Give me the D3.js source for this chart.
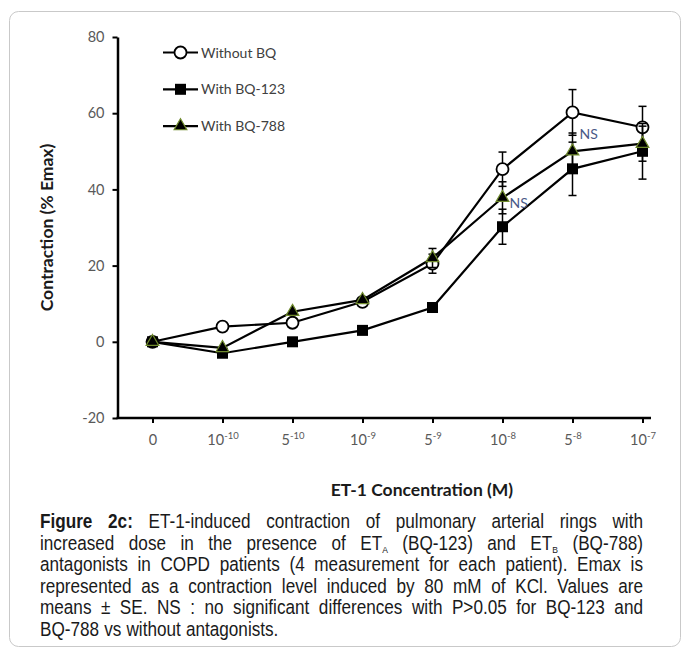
<!DOCTYPE html>
<html>
<head>
<meta charset="utf-8">
<script src="https://cdn.jsdelivr.net/npm/d3@7"></script>
<style>
  html, body { margin: 0; padding: 0; background: #fff; }
  svg { display: block; }
</style>
</head>
<body>
<svg id="chart" width="683" height="651"></svg>
<script>
// ET-1 concentrations (tick labels: base^exponent)
const categories = ["0", "10^-10", "5^-10", "10^-9", "5^-9", "10^-8", "5^-8", "10^-7"];
const yTicks = [-20, 0, 20, 40, 60, 80];

// Contraction (% Emax), means and SE
const withoutBQ      = [0, 4, 5, 10.5, 20.5, 45.3, 60.2, 56.3];
const withoutBQErr   = [0, 0, 0, 0, 2.5, 4.5, 6, 5.5];
const withBQ123      = [0, -3, 0, 3, 9, 30.2, 45.4, 50];
const withBQ123Err   = [0, 0, 0, 0, 0, 4.6, 7, 7.3];
const withBQ788      = [0, -1.6, 7.9, 11, 22, 37.8, 50, 52];
const withBQ788Err   = [0, 0, 0, 0, 2.5, 4.2, 4.8, 4.6];

const seriesNames = ["Without BQ", "With BQ-123", "With BQ-788"];

// "NS" annotations: category and value they sit next to
const nsCategories = ["10^-8", "5^-8"];
const nsValues = [36.5, 54.5];

const captionLines = [
  "*Figure *2c: ET-1-induced contraction of pulmonary arterial rings with",
  "increased dose in the presence of ET_A (BQ-123) and ET_B (BQ-788)",
  "antagonists in COPD patients (4 measurement for each patient).  Emax is",
  "represented as a contraction level induced by 80 mM of KCl. Values are",
  "means ± SE. NS :  no significant differences with P>0.05 for BQ-123 and",
  "BQ-788 vs without antagonists."
];

const svg = d3.select("#chart");
const axisFont = "Lato, 'Open Sans', sans-serif";
const captionFont = "'Liberation Sans Narrow', 'Arial Narrow', 'Liberation Sans', Arial, sans-serif";

// frame
svg.append("rect")
  .attr("x", 9.5).attr("y", 11.5)
  .attr("width", 671).attr("height", 635)
  .attr("rx", 9).attr("ry", 9)
  .attr("fill", "none").attr("stroke", "#c9c9c9").attr("stroke-width", 1);

const x = d3.scalePoint().domain(categories).range([152.5, 642.5]);
const y = d3.scaleLinear().domain([-20, 80]).range([418, 37]);
const axisLeftX = 117.5, axisRightX = 651;

// y axis
const yAxis = svg.append("g")
  .attr("transform", `translate(${axisLeftX},0)`)
  .call(d3.axisLeft(y).tickValues(yTicks).tickSize(5).tickSizeOuter(0)
    .tickFormat(d => String(d)));
yAxis.select(".domain").attr("stroke", "#000").attr("stroke-width", 2.5);
yAxis.selectAll(".tick line").attr("stroke", "#000").attr("stroke-width", 2);
yAxis.selectAll(".tick text")
  .attr("font-family", axisFont).attr("font-size", 14.5).attr("fill", "#595959")
  .attr("x", -13);

// x axis
const xAxis = svg.append("g")
  .attr("transform", `translate(0,${y(-20)})`)
  .call(d3.axisBottom(x).tickSize(5).tickSizeOuter(0).tickFormat(""));
xAxis.select(".domain").remove();
xAxis.append("line")
  .attr("x1", axisLeftX - 1).attr("x2", axisRightX)
  .attr("stroke", "#000").attr("stroke-width", 2.5);
xAxis.selectAll(".tick line").attr("stroke", "#000").attr("stroke-width", 2);
xAxis.selectAll(".tick").each(function(d) {
  const parts = d.split("^");
  const t = d3.select(this).append("text")
    .attr("y", 27).attr("text-anchor", "middle")
    .attr("font-family", axisFont).attr("font-size", 14.5).attr("fill", "#595959");
  t.append("tspan").text(parts[0]);
  if (parts[1]) {
    t.append("tspan").attr("font-size", 9.5).attr("dy", -6).text(parts[1]);
  }
});

// axis titles
svg.append("text")
  .attr("transform", `translate(53,${(y(80) + y(-20)) / 2}) rotate(-90)`)
  .attr("text-anchor", "middle")
  .attr("font-family", axisFont).attr("font-weight", "bold").attr("font-size", 17.5)
  .attr("fill", "#1a1a1a")
  .text("Contraction (% Emax)");

svg.append("text")
  .attr("x", 422).attr("y", 496)
  .attr("text-anchor", "middle")
  .attr("font-family", axisFont).attr("font-weight", "bold").attr("font-size", 17.5)
  .attr("fill", "#1a1a1a")
  .text("ET-1 Concentration (M)");

// series
const series = [
  { name: seriesNames[0], values: withoutBQ, err: withoutBQErr, marker: "circle" },
  { name: seriesNames[1], values: withBQ123, err: withBQ123Err, marker: "square" },
  { name: seriesNames[2], values: withBQ788, err: withBQ788Err, marker: "triangle" }
];

const triangleColor = "#6f8a2c";

function drawMarker(g, type, cx, cy) {
  if (type === "circle") {
    g.append("circle").attr("cx", cx).attr("cy", cy).attr("r", 6)
      .attr("fill", "#fff").attr("stroke", "#000").attr("stroke-width", 1.8);
  } else if (type === "square") {
    g.append("rect").attr("x", cx - 5.5).attr("y", cy - 5.5)
      .attr("width", 11).attr("height", 11).attr("fill", "#000");
  } else {
    const sym = d3.symbol().type(d3.symbolTriangle).size(70);
    g.append("path").attr("d", sym()).attr("transform", `translate(${cx},${cy})`)
      .attr("fill", "#000").attr("stroke", triangleColor).attr("stroke-width", 1.2);
  }
}

const line = d3.line().x((d, i) => x(categories[i])).y(d => y(d));

series.forEach(s => {
  const g = svg.append("g");
  // error bars
  s.values.forEach((v, i) => {
    const e = s.err[i];
    if (!e) return;
    const cx = x(categories[i]);
    g.append("line").attr("x1", cx).attr("x2", cx)
      .attr("y1", y(v - e)).attr("y2", y(v + e))
      .attr("stroke", "#000").attr("stroke-width", 1.5);
    [v - e, v + e].forEach(b => {
      g.append("line").attr("x1", cx - 4).attr("x2", cx + 4)
        .attr("y1", y(b)).attr("y2", y(b))
        .attr("stroke", "#000").attr("stroke-width", 1.5);
    });
  });
  g.append("path").attr("d", line(s.values))
    .attr("fill", "none").attr("stroke", "#000").attr("stroke-width", 2.2);
  s.values.forEach((v, i) => drawMarker(g, s.marker, x(categories[i]), y(v)));
});

// NS annotations
nsCategories.forEach((c, i) => {
  svg.append("text")
    .attr("x", x(c) + 7).attr("y", y(nsValues[i]) + 5)
    .attr("font-family", axisFont).attr("font-size", 14).attr("fill", "#4a5a88")
    .text("NS");
});

// legend
const legend = svg.append("g");
series.forEach((s, i) => {
  const ly = 52.5 + i * 36.8;
  legend.append("line").attr("x1", 163).attr("x2", 198).attr("y1", ly).attr("y2", ly)
    .attr("stroke", "#000").attr("stroke-width", 2.2);
  drawMarker(legend, s.marker, 180.5, ly);
  legend.append("text").attr("x", 201).attr("y", ly + 5)
    .attr("font-family", axisFont).attr("font-size", 14).attr("fill", "#404040")
    .text(s.name);
});

// caption, justified between left and right margins; words are
// condensed horizontally to give a narrow face
const capLeft = 40, capRight = 643, capTop = 528, capStep = 21.6, capSize = 19.5;
const narrow = 0.88;
const caption = svg.append("g")
  .attr("font-family", captionFont).attr("font-size", capSize).attr("fill", "#1a1a1a");

function buildWord(parent, word) {
  const t = parent.append("text");
  let w = word;
  if (w.startsWith("*")) { t.attr("font-weight", "bold"); w = w.slice(1); }
  const m = w.match(/^(.*)_(\w)(.*)$/);
  if (m) {
    t.append("tspan").text(m[1]);
    t.append("tspan").attr("font-size", capSize * 0.5).attr("dy", 3).text(m[2]);
    if (m[3]) t.append("tspan").attr("dy", -3).text(m[3]);
  } else {
    t.text(w);
  }
  return t;
}

captionLines.forEach((ln, li) => {
  const words = ln.split(/ +/).filter(w => w.length);
  const yy = capTop + li * capStep;
  const nodes = words.map(w => buildWord(caption, w));
  const widths = nodes.map(n => n.node().getComputedTextLength() * narrow);
  const total = d3.sum(widths);
  const last = li === captionLines.length - 1;
  const spaceW = capSize * 0.26;
  const gap = last ? spaceW : (capRight - capLeft - total) / (words.length - 1);
  let cx = capLeft;
  nodes.forEach((n, i) => {
    n.attr("transform", `translate(${cx},${yy}) scale(${narrow},1)`);
    cx += widths[i] + gap;
  });
});
</script>
</body>
</html>
